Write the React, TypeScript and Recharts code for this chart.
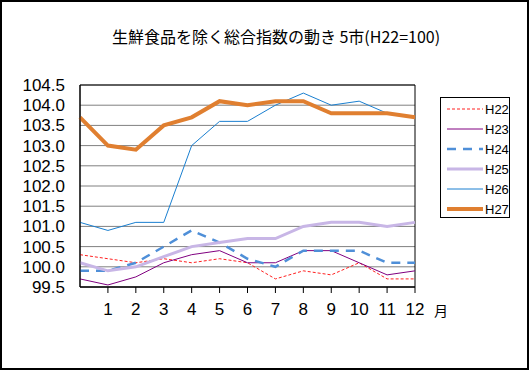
import React from 'react';
import { LineChart, Line, XAxis, YAxis, CartesianGrid, ReferenceArea } from 'recharts';

const months = [0, 1, 2, 3, 4, 5, 6, 7, 8, 9, 10, 11, 12];
const monthTicks = [1, 2, 3, 4, 5, 6, 7, 8, 9, 10, 11, 12];
const yTicks = [99.5, 100, 100.5, 101, 101.5, 102, 102.5, 103, 103.5, 104, 104.5];

const h22 = [100.3, 100.2, 100.1, 100.2, 100.1, 100.2, 100.1, 99.7, 99.9, 99.8, 100.1, 99.7, 99.7];
const h23 = [99.7, 99.55, 99.75, 100.1, 100.3, 100.4, 100.1, 100.1, 100.4, 100.4, 100.1, 99.8, 99.9];
const h24 = [99.9, 99.9, 100.1, 100.5, 100.9, 100.6, 100.2, 100.0, 100.4, 100.4, 100.4, 100.1, 100.1];
const h25 = [100.1, 99.9, 100.0, 100.25, 100.5, 100.6, 100.7, 100.7, 101.0, 101.1, 101.1, 101.0, 101.1];
const h26 = [101.1, 100.9, 101.1, 101.1, 103.0, 103.6, 103.6, 104.0, 104.3, 104.0, 104.1, 103.8, 103.7];
const h27 = [103.7, 103.0, 102.9, 103.5, 103.7, 104.1, 104.0, 104.1, 104.1, 103.8, 103.8, 103.8, 103.7];

const data = months.map((m, i) => ({
  m,
  H22: h22[i],
  H23: h23[i],
  H24: h24[i],
  H25: h25[i],
  H26: h26[i],
  H27: h27[i],
}));

const SERIES = [
  { key: 'H22', color: '#ff2020', width: 1, dash: '3 2' },
  { key: 'H23', color: '#800080', width: 1, dash: undefined },
  { key: 'H24', color: '#4f8fd8', width: 2.5, dash: '9 7' },
  { key: 'H25', color: '#c8b6e6', width: 3, dash: undefined },
  { key: 'H26', color: '#1a7fd0', width: 1, dash: undefined },
  { key: 'H27', color: '#e07f30', width: 4, dash: undefined },
];

const tickFont = { fontFamily: '"Liberation Sans", Arial, sans-serif', fontSize: 17, fill: '#000' };

// legend drawn beside the chart, like the original
const LegendBox = () => (
  <div style={{
    position: 'absolute', left: 440, top: 97, width: 70, height: 121,
    border: '1px solid #000', boxSizing: 'border-box', background: '#fff', paddingTop: 1,
  }}>
    {SERIES.map(s => (
      <div key={s.key} style={{ height: 20, display: 'flex', alignItems: 'center' }}>
        <svg width={44} height={8} style={{ display: 'block' }}>
          <line x1={6} x2={42} y1={4} y2={4} stroke={s.color} strokeWidth={s.width} strokeDasharray={s.dash} />
        </svg>
        <span style={{ fontFamily: '"Liberation Sans", Arial, sans-serif', fontSize: 13, color: '#000' }}>{s.key}</span>
      </div>
    ))}
  </div>
);

export default function App() {
  return (
    <div style={{ position: 'absolute', left: 0, top: 0, width: 529, height: 370, background: '#fff' }}>
      <div style={{
        position: 'absolute', left: 0, top: 26, width: 552, textAlign: 'center',
        fontFamily: '"Noto Sans CJK JP", sans-serif', fontSize: 16, lineHeight: '20px', color: '#000',
      }}>
        生鮮食品を除く総合指数の動き 5市(H22=100)
      </div>
      <LineChart
        width={529}
        height={370}
        data={data}
        margin={{ top: 85, right: 114, bottom: 53, left: 20 }}
        style={{ position: 'absolute', left: 0, top: 0 }}
      >
        <CartesianGrid horizontal vertical={false} stroke="#808080" strokeWidth={1} />
        <XAxis
          dataKey="m"
          type="number"
          domain={[0, 12]}
          ticks={monthTicks}
          interval={0}
          height={30}
          tickSize={6}
          tickMargin={10}
          tick={tickFont}
          axisLine={{ stroke: '#000' }}
          tickLine={{ stroke: '#000' }}
        />
        <YAxis
          domain={[99.5, 104.5]}
          ticks={yTicks}
          interval={0}
          width={60}
          tickSize={13}
          tickMargin={2}
          tickLine={false}
          tick={tickFont}
          tickFormatter={(v: number) => v.toFixed(1)}
          axisLine={{ stroke: '#000' }}
        />
        <ReferenceArea x1={0} x2={12} y1={99.5} y2={104.5} fill="none" stroke="#000" strokeWidth={1} />
        {SERIES.map(s => (
          <Line
            key={s.key}
            dataKey={s.key}
            stroke={s.color}
            strokeWidth={s.width}
            strokeDasharray={s.dash}
            dot={false}
            activeDot={false}
            isAnimationActive={false}
          />
        ))}
      </LineChart>
      <LegendBox />
      <div style={{
        position: 'absolute', left: 434, top: 300, fontFamily: '"Noto Sans CJK JP", sans-serif',
        fontSize: 14, color: '#000',
      }}>
        月
      </div>
      <div style={{
        position: 'absolute', left: 0, top: 0, width: 529, height: 370, boxSizing: 'border-box',
        border: '2px solid #000', pointerEvents: 'none',
      }} />
    </div>
  );
}
